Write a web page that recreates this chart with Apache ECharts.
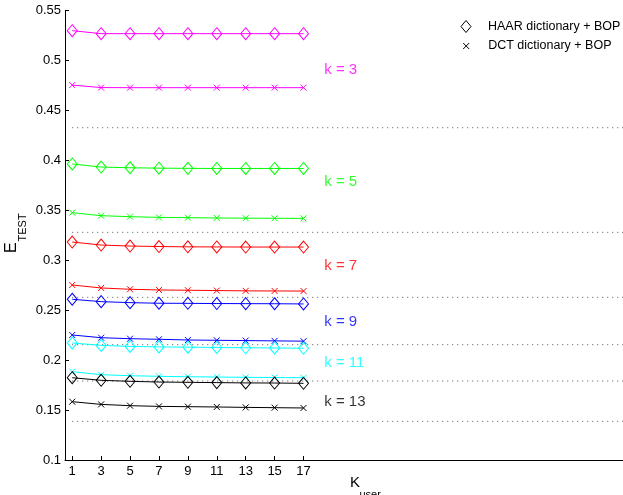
<!DOCTYPE html>
<html>
<head>
<meta charset="utf-8">
<script src="https://cdn.jsdelivr.net/npm/echarts@6/dist/echarts.min.js"></script>
<style>
html,body{margin:0;padding:0;background:#fff;}
#chart{width:623px;height:495px;}
</style>
</head>
<body>
<div id="chart"></div>
<script>
const xValues = [1, 3, 5, 7, 9, 11, 13, 15, 17];
const kValues = ['k = 3', 'k = 5', 'k = 7', 'k = 9', 'k = 11', 'k = 13'];
const kColors = ['#ff00ff', '#00ff00', '#ff0000', '#0000ff', '#00ffff', '#000000'];

const haar_k3  = [0.530, 0.527, 0.527, 0.527, 0.527, 0.527, 0.527, 0.527, 0.527];
const haar_k5  = [0.3965, 0.3934, 0.3927, 0.3923, 0.3921, 0.3920, 0.3920, 0.3920, 0.3920];
const haar_k7  = [0.3183, 0.3153, 0.3143, 0.3138, 0.3135, 0.3134, 0.3133, 0.3133, 0.3133];
const haar_k9  = [0.2610, 0.2586, 0.2576, 0.2570, 0.2569, 0.2567, 0.2566, 0.2565, 0.2563];
const haar_k11 = [0.2172, 0.2148, 0.2138, 0.2133, 0.2130, 0.2127, 0.2124, 0.2122, 0.2119];
const haar_k13 = [0.1824, 0.1798, 0.1788, 0.1781, 0.1778, 0.1775, 0.1772, 0.1771, 0.1768];

const dct_k3  = [0.4755, 0.4730, 0.4729, 0.4729, 0.4729, 0.4729, 0.4729, 0.4729, 0.4729];
const dct_k5  = [0.3477, 0.3447, 0.3437, 0.3430, 0.3427, 0.3424, 0.3422, 0.3421, 0.3420];
const dct_k7  = [0.2753, 0.2723, 0.2710, 0.2703, 0.2700, 0.2697, 0.2694, 0.2693, 0.2692];
const dct_k9  = [0.2252, 0.2225, 0.2215, 0.2209, 0.2202, 0.2199, 0.2196, 0.2193, 0.2190];
const dct_k11 = [0.1885, 0.1854, 0.1844, 0.1838, 0.1834, 0.1831, 0.1828, 0.1826, 0.1824];
const dct_k13 = [0.1584, 0.1557, 0.1544, 0.1537, 0.1534, 0.1531, 0.1527, 0.1524, 0.1521];

const haarSeries = [haar_k3, haar_k5, haar_k7, haar_k9, haar_k11, haar_k13];
const dctSeries = [dct_k3, dct_k5, dct_k7, dct_k9, dct_k11, dct_k13];

const bounds = [0.4328, 0.3280, 0.2629, 0.2155, 0.1791, 0.1387];
const labelY = [0.4906, 0.3787, 0.2946, 0.2380, 0.1974, 0.1584];
const labelX = 18.4;

const yTicks = [0.1, 0.15, 0.2, 0.25, 0.3, 0.35, 0.4, 0.45, 0.5, 0.55];
const legendNames = ['HAAR dictionary + BOP', 'DCT dictionary + BOP'];

const X_MIN = 0.5, X_MAX = 39.1;
const FONT = '"Liberation Sans", Arial, Helvetica, sans-serif';
const XPATH = 'path://M0,0L10,10M10,0L0,10';
const CLEAR = 'rgba(255,255,255,0)';

const series = [];
const zip = a => xValues.map((x, i) => [x, a[i]]);

bounds.forEach(b => {
  series.push({
    type: 'line', silent: true, symbol: 'none',
    data: [[1, b], [X_MAX, b]],
    lineStyle: { color: '#555', width: 1, type: [1, 4] },
    z: 1
  });
});

kColors.forEach((c, i) => {
  series.push({
    type: 'line', silent: true,
    data: zip(haarSeries[i]),
    symbol: 'diamond', symbolSize: [10, 12],
    lineStyle: { color: c, width: 1 },
    itemStyle: { color: CLEAR, borderColor: c, borderWidth: 1 },
    z: 3
  });
  series.push({
    type: 'line', silent: true,
    data: zip(dctSeries[i]),
    symbol: XPATH, symbolSize: 6,
    lineStyle: { color: c, width: 1 },
    itemStyle: { color: CLEAR, borderColor: c, borderWidth: 1 },
    z: 3
  });
  series.push({
    type: 'scatter', silent: true,
    data: [[labelX, labelY[i]]],
    symbolSize: 1,
    itemStyle: { color: CLEAR },
    label: {
      show: true, position: 'right', distance: 0,
      formatter: kValues[i], color: c, fontSize: 15, fontFamily: FONT
    },
    z: 4
  });
});

// legend-only series
series.push({
  type: 'line', name: legendNames[0], data: [],
  symbol: 'diamond',
  itemStyle: { color: CLEAR, borderColor: '#000', borderWidth: 1 },
  lineStyle: { color: '#000', width: 1 }
});
series.push({
  type: 'line', name: legendNames[1], data: [],
  symbol: XPATH,
  itemStyle: { color: CLEAR, borderColor: '#000', borderWidth: 1 },
  lineStyle: { color: '#000', width: 1 }
});

const chart = echarts.init(document.getElementById('chart'), null, { renderer: 'canvas' });
chart.setOption({
  animation: false,
  backgroundColor: '#fff',
  textStyle: { fontFamily: FONT },
  grid: { left: 65, right: 0, top: 10.7, bottom: 35, containLabel: false },
  legend: [
    {
      data: [{ name: legendNames[0], icon: 'diamond' }],
      left: 460.5, top: 20, itemWidth: 10, itemHeight: 12, padding: 0,
      selectedMode: false,
      itemStyle: { color: CLEAR, borderColor: '#000', borderWidth: 1 },
      textStyle: { fontSize: 12.5, color: '#000', fontFamily: FONT, padding: [0, 0, 0, 12] }
    },
    {
      data: [{ name: legendNames[1], icon: XPATH }],
      left: 462.7, top: 39.5, itemWidth: 6, itemHeight: 6, padding: 0,
      selectedMode: false,
      itemStyle: { color: CLEAR, borderColor: '#000', borderWidth: 1 },
      textStyle: { fontSize: 12.5, color: '#000', fontFamily: FONT, padding: [0, 0, 0, 14] }
    }
  ],
  xAxis: {
    type: 'value', min: X_MIN, max: X_MAX,
    axisLine: { show: true, onZero: false, lineStyle: { color: '#000', width: 1 } },
    axisTick: { show: true, inside: true, length: 4, customValues: xValues, lineStyle: { color: '#000' } },
    axisLabel: { show: true, customValues: xValues, color: '#000', fontSize: 13, margin: 5, fontFamily: FONT },
    splitLine: { show: false }
  },
  yAxis: {
    type: 'value', min: 0.1, max: 0.55, interval: 0.05,
    axisLine: { show: true, onZero: false, lineStyle: { color: '#000', width: 1 } },
    axisTick: { show: true, inside: true, length: 4, customValues: yTicks, lineStyle: { color: '#000' } },
    axisLabel: { show: true, customValues: yTicks, color: '#000', fontSize: 13, margin: 4, fontFamily: FONT,
      formatter: v => String(+v.toFixed(2)) },
    splitLine: { show: false }
  },
  graphic: [
    {
      type: 'group', rotation: Math.PI / 2, x: 0, y: 253,
      children: [
        { type: 'text', x: 0, y: 11.5, style: { text: 'E', fill: '#000', font: '16px ' + FONT, align: 'left', verticalAlign: 'middle' } },
        { type: 'text', x: 11.5, y: 22.5, style: { text: 'TEST', fill: '#000', font: '11px ' + FONT, align: 'left', verticalAlign: 'middle' } }
      ]
    },
    { type: 'text', x: 350, y: 483, style: { text: 'K', fill: '#000', font: '15px ' + FONT, align: 'left', verticalAlign: 'middle' } },
    { type: 'text', x: 359.5, y: 494.5, style: { text: 'user', fill: '#000', font: '11px ' + FONT, align: 'left', verticalAlign: 'middle' } }
  ],
  series: series
});
</script>
</body>
</html>
